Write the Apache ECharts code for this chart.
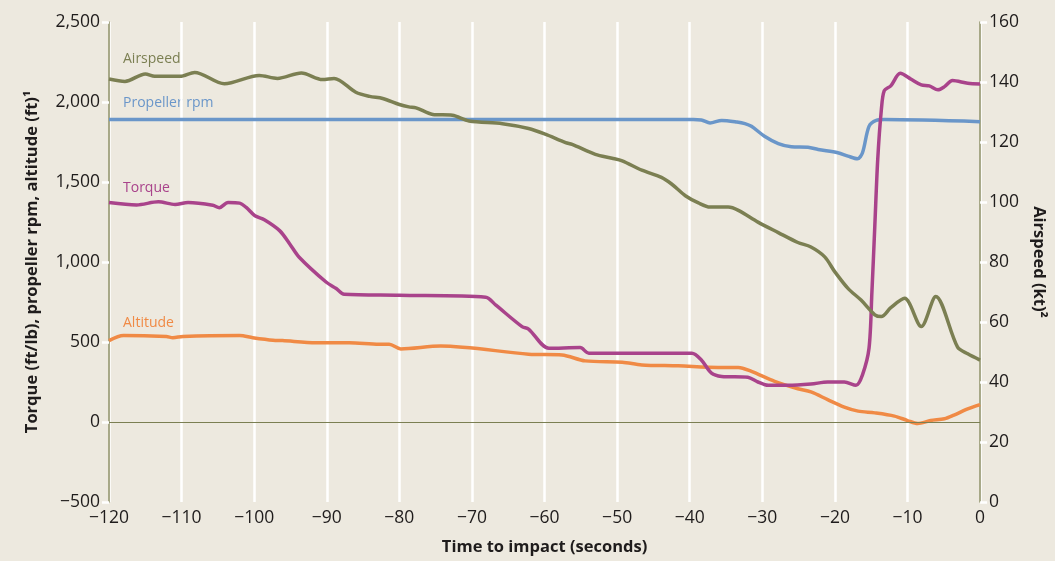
<!DOCTYPE html>
<html><head><meta charset="utf-8">
<script src="https://cdn.jsdelivr.net/npm/echarts@6/dist/echarts.min.js"></script>
<style>html,body{margin:0;padding:0;background:#ede9df;overflow:hidden;}#c{width:1055px;height:561px;}</style>
</head><body><div id="c"></div>
<script>
const airT = [-120,-117.8,-115,-113.7,-110.2,-108.2,-104.1,-99.3,-96.8,-93.5,-90.6,-89,-86,-84.1,-82.3,-80,-78.7,-77.7,-75.4,-72.7,-70.4,-65.8,-62.2,-59.9,-57.1,-56.2,-53,-50.7,-49.3,-46.6,-43.9,-42.5,-40.6,-38.8,-37.2,-34.7,-33.3,-30.6,-27.8,-25.1,-23.3,-21.4,-20,-18.2,-16.4,-14.5,-13.6,-12.3,-10.4,-8.1,-6.1,-3.1,-1.7,0];
const airV = [141,140.2,142.7,141.9,141.9,143.2,139.4,142.2,141.2,143,140.8,141.2,136.6,135.2,134.5,132.5,131.7,131.4,129.2,128.9,127,126.1,124.5,122.6,119.8,119.2,115.9,114.6,113.7,110.6,108.2,106,102.1,99.7,98.3,98.3,97.2,93.3,89.8,86.5,85,81.7,76.7,71.2,67.3,62.4,61.8,64.8,67.9,58.5,68.5,51.6,49.4,47.3];
const rpmT = [-120,-39.5,-38.4,-37.2,-35.6,-33.5,-32.4,-31.5,-29.7,-27.8,-26,-23.7,-22.3,-19.6,-18.2,-16.9,-16.2,-15.3,-14.3,-13.2,0];
const rpmV = [1890,1890,1888,1869,1885,1875,1865,1848,1786,1740,1720,1717,1703,1683,1662,1645,1683,1848,1885,1890,1877];
const torT = [-120,-116.2,-113.2,-110.9,-109.1,-105.7,-104.8,-103.6,-102,-101.1,-99.9,-98.6,-96.5,-95.1,-93.8,-90.1,-88.7,-87.6,-80,-68.1,-66.7,-63.1,-62.2,-59.4,-55.1,-53.9,-39.7,-38.4,-37,-35.6,-32,-30.6,-29.2,-26.5,-23.3,-21,-18.7,-17.1,-16.2,-15.3,-14.9,-14.5,-14.1,-13.6,-13.2,-12.3,-11,-9.5,-8.1,-7,-5.8,-4.9,-3.8,-1.7,0];
const torV = [1372,1357,1376,1360,1372,1355,1339,1372,1368,1341,1289,1264,1196,1113,1030,875,834,798,792,780,730,596,581,461,465,430,430,388,306,285,279,250,229,229,237,250,250,229,295,461,813,1227,1641,1952,2071,2101,2179,2142,2107,2101,2076,2096,2134,2117,2113];
const altT = [-120,-118,-112.1,-111.2,-109.8,-102,-100.2,-97.4,-96.1,-91.5,-86.9,-82.8,-81.4,-79.8,-74.3,-62.2,-57.6,-54.4,-49.3,-46.6,-41.6,-36.1,-33.3,-31.5,-28.3,-25.1,-23.3,-21,-18.7,-16.8,-14.5,-11.8,-10,-8.6,-6.8,-4.9,-3.6,-1.7,0];
const altV = [509,540,534,527,535,540,527,511,509,496,496,486,486,457,475,424,419,382,374,357,351,341,341,316,254,208,188,140,93,68,57,37,9,-9,9,20,43,82,109];
const seriesNames = ['Airspeed','Propeller rpm','Torque','Altitude'];
const xTitle = 'Time to impact (seconds)';
const yLeftTitle = 'Torque (ft/lb), propeller rpm, altitude (ft)\u00B9';
const yRightTitle = 'Airspeed (kt)\u00B2';

const zip = (t, v) => t.map((x, i) => [x, v[i]]);
const MINUS = '\u2212';
const fmt = v => (v < 0 ? MINUS : '') + Math.abs(v).toLocaleString('en-US');
const FONT = 'Open Sans';
const olive = '#7b7f52';
const axisOlive = '#8b8c62';
const ink = '#1f1c1c';
const colors = {air: olive, rpm: '#6a96c9', tor: '#a9438b', alt: '#f08a45'};

const chart = echarts.init(document.getElementById('c'), null, {width: 1055, height: 561});
const lineBase = {type: 'line', showSymbol: false, smooth: 0.3, animation: false};
const titleStyle = {color: ink, fontFamily: FONT, fontSize: 16.5, fontWeight: 'bold'};
const tickStyle = {color: ink, fontFamily: FONT, fontSize: 17.5};
chart.setOption({
  backgroundColor: '#ede9df',
  animation: false,
  grid: {left: 109, top: 22, width: 882, height: 490},
  xAxis: {
    type: 'value', min: -120, max: 0, interval: 10,
    axisLine: {show: false}, axisTick: {show: false},
    axisLabel: Object.assign({margin: 7, formatter: fmt}, tickStyle),
    splitLine: {show: true, lineStyle: {color: '#ffffff', width: 2.5}},
    name: xTitle, nameLocation: 'middle', nameGap: 37,
    nameTextStyle: titleStyle
  },
  yAxis: [{
    type: 'value', min: -500, max: 2500, interval: 500, position: 'left',
    axisLine: {show: true, onZero: false, lineStyle: {color: axisOlive, width: 1.5}},
    axisTick: {show: true, inside: false, length: 7, lineStyle: {color: '#ffffff', width: 2.5}},
    axisLabel: Object.assign({margin: 9, formatter: fmt}, tickStyle),
    splitLine: {show: false},
    name: yLeftTitle, nameLocation: 'middle', nameGap: 68, nameRotate: 90,
    nameTextStyle: titleStyle
  }, {
    type: 'value', min: 0, max: 160, interval: 20, position: 'right',
    axisLine: {show: true, onZero: false, lineStyle: {color: axisOlive, width: 1.5}},
    axisTick: {show: true, inside: false, length: 7, lineStyle: {color: '#ffffff', width: 2.5}},
    axisLabel: Object.assign({margin: 9}, tickStyle),
    splitLine: {show: false},
    name: yRightTitle, nameLocation: 'middle', nameGap: 49, nameRotate: -90,
    nameTextStyle: titleStyle
  }],
  graphic: [
    {type: 'text', left: 123, top: 52, style: {text: seriesNames[0], fill: colors.air, font: '14px "Open Sans"'}},
    {type: 'text', left: 123, top: 96, style: {text: seriesNames[1], fill: colors.rpm, font: '14px "Open Sans"'}},
    {type: 'text', left: 123, top: 181, style: {text: seriesNames[2], fill: colors.tor, font: '14px "Open Sans"'}},
    {type: 'text', left: 123, top: 316, style: {text: seriesNames[3], fill: colors.alt, font: '14px "Open Sans"'}}
  ],
  series: [
    Object.assign({}, lineBase, {name: seriesNames[3], yAxisIndex: 0, data: zip(altT, altV), lineStyle: {width: 3.5, color: colors.alt}, z: 3,
      markLine: {silent: true, symbol: 'none', label: {show: false}, lineStyle: {color: olive, width: 1.2, type: 'solid'}, data: [{yAxis: 0}]}}),
    Object.assign({}, lineBase, {name: seriesNames[2], yAxisIndex: 0, data: zip(torT, torV), lineStyle: {width: 3.5, color: colors.tor}, z: 4}),
    Object.assign({}, lineBase, {name: seriesNames[1], yAxisIndex: 0, data: zip(rpmT, rpmV), lineStyle: {width: 3.5, color: colors.rpm}, z: 2}),
    Object.assign({}, lineBase, {name: seriesNames[0], yAxisIndex: 1, data: zip(airT, airV), lineStyle: {width: 3.5, color: colors.air}, z: 5})
  ]
});
</script></body></html>
